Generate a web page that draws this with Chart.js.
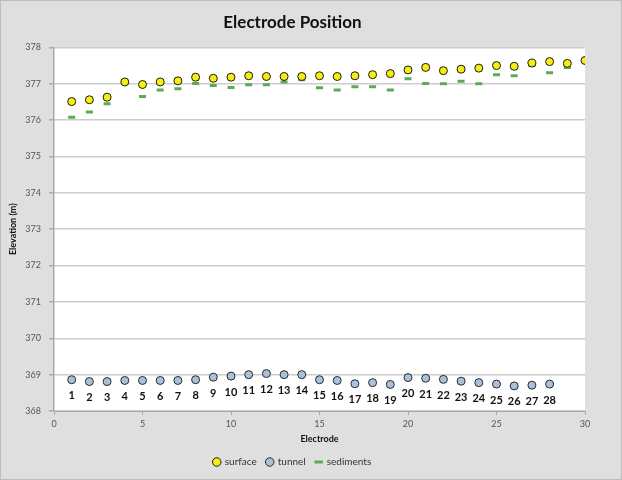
<!DOCTYPE html>
<html>
<head>
<meta charset="utf-8">
<script src="https://cdn.jsdelivr.net/npm/chart.js@4"></script>
<style>
  html, body { margin: 0; padding: 0; background: #dfdfdf; }
  #wrap { width: 622px; height: 480px; }
</style>
</head>
<body>
<div id="wrap"><canvas id="chart" width="622" height="480"></canvas></div>
<script>
const electrodes = [1,2,3,4,5,6,7,8,9,10,11,12,13,14,15,16,17,18,19,20,21,22,23,24,25,26,27,28,29,30];
const surface = [376.51,376.56,376.63,377.05,376.98,377.05,377.08,377.18,377.15,377.18,
                 377.22,377.2,377.2,377.2,377.22,377.2,377.22,377.25,377.28,377.38,
                 377.45,377.36,377.4,377.43,377.5,377.48,377.57,377.61,377.56,377.64];
const tunnel = [368.86,368.81,368.81,368.84,368.84,368.84,368.84,368.86,368.93,368.96,
                369.0,369.03,369.0,369.0,368.86,368.84,368.75,368.78,368.73,368.92,
                368.9,368.87,368.82,368.78,368.74,368.69,368.71,368.74];
const sediments = [376.08,376.22,376.45,377.04,376.65,376.83,376.86,377.01,376.95,376.9,
                   376.97,376.97,377.05,377.11,376.89,376.83,376.92,376.92,376.83,377.14,
                   377.01,377.0,377.07,377.0,377.25,377.22,377.5,377.3,377.45,377.63];
const tunnelLabels = ["1","2","3","4","5","6","7","8","9","10","11","12","13","14",
                      "15","16","17","18","19","20","21","22","23","24","25","26","27","28"];

const FONT = "Lato, 'Open Sans', sans-serif";

const toXY = (vals) => vals.map((v, i) => ({ x: electrodes[i], y: v }));

const frame = {
  id: 'frame',
  beforeDraw(chart) {
    const { ctx, chartArea: a } = chart;
    ctx.save();
    ctx.fillStyle = '#dfdfdf';
    ctx.fillRect(0, 0, chart.width, chart.height);
    ctx.fillStyle = '#ffffff';
    ctx.fillRect(a.left, a.top, a.right - a.left, a.bottom - a.top);
    ctx.strokeStyle = '#bdbdbd';
    ctx.lineWidth = 1;
    ctx.strokeRect(0.5, 0.5, chart.width - 1, chart.height - 1);
    ctx.restore();
  }
};

const numberLabels = {
  id: 'numberLabels',
  afterDatasetsDraw(chart) {
    const meta = chart.getDatasetMeta(1);
    const { ctx } = chart;
    ctx.save();
    ctx.font = "bold 11px " + FONT;
    ctx.fillStyle = '#111';
    ctx.textAlign = 'center';
    ctx.textBaseline = 'middle';
    meta.data.forEach((pt, i) => {
      ctx.fillText(tunnelLabels[i], pt.x, pt.y + 16);
    });
    ctx.restore();
  }
};

new Chart(document.getElementById('chart'), {
  type: 'scatter',
  data: {
    datasets: [
      {
        label: 'surface',
        data: toXY(surface),
        backgroundColor: '#f5ee10',
        borderColor: '#1a1a1a',
        borderWidth: 1,
        pointRadius: 4,
        pointStyle: 'circle',
        order: 1
      },
      {
        label: 'tunnel',
        data: toXY(tunnel),
        backgroundColor: '#a9c0de',
        borderColor: '#2a2a2a',
        borderWidth: 1,
        pointRadius: 4,
        pointStyle: 'circle',
        order: 2
      },
      {
        label: 'sediments',
        data: toXY(sediments),
        backgroundColor: '#5bab55',
        borderColor: '#5bab55',
        borderWidth: 3,
        pointRadius: 3.5,
        pointStyle: 'line',
        order: 3
      }
    ]
  },
  options: {
    responsive: false,
    animation: false,
    layout: { padding: { left: 0, right: 37, top: 0, bottom: 3 } },
    plugins: {
      title: {
        display: true,
        text: 'Electrode Position',
        color: '#111',
        font: { family: FONT, size: 17, weight: 'bold' },
        padding: { top: 12, bottom: 15 }
      },
      legend: {
        position: 'bottom',
        labels: {
          usePointStyle: true,
          boxWidth: 6,
          boxHeight: 6,
          padding: 10,
          color: '#333',
          font: { family: FONT, size: 10 }
        }
      },
      tooltip: { enabled: false }
    },
    scales: {
      x: {
        type: 'linear',
        min: 0,
        max: 30,
        ticks: { stepSize: 5, color: '#555', font: { family: FONT, size: 9 }, padding: 4 },
        grid: { display: true, drawOnChartArea: false, drawTicks: true, tickLength: 4, color: '#a8a8a8' },
        border: { color: '#a8a8a8', width: 1 },
        title: { display: true, text: 'Electrode', color: '#111', font: { family: FONT, size: 9, weight: 'bold' }, padding: { top: 2, bottom: 3 } },
        afterFit(s) { s.height = 36; }
      },
      y: {
        min: 368,
        max: 378,
        ticks: { stepSize: 1, color: '#555', font: { family: FONT, size: 9 }, padding: 8 },
        grid: { color: '#cccccc', lineWidth: 1.5, tickLength: 5, tickColor: '#a8a8a8' },
        border: { color: '#a8a8a8', width: 1.5 },
        title: { display: true, text: 'Elevation (m)', color: '#111', font: { family: FONT, size: 9, weight: 'bold' }, padding: { top: 8, bottom: 0 } },
        afterFit(s) { s.width = 54; }
      }
    }
  },
  plugins: [frame, numberLabels]
});
</script>
</body>
</html>
